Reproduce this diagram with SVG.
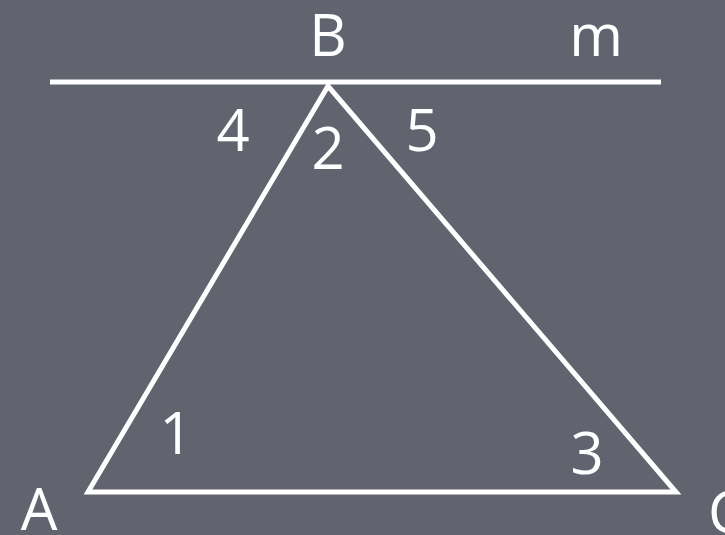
<svg xmlns="http://www.w3.org/2000/svg" width="725" height="535" viewBox="0 0 725 535">
<style>
.t{font-family:"Open Sans","DejaVu Sans",sans-serif;fill:#ffffff;font-size:58px}
.s{stroke:#ffffff;stroke-width:5;fill:none}
</style>
<rect width="725" height="535" fill="#61646f"/>
<g id="connectors">
<line id="m" class="s" x1="50" y1="82" x2="661" y2="82"/>
<polygon id="triangle" class="s" points="328,86 88,492 676,492" stroke-linejoin="miter"/>
</g>
<g id="B"><text class="t" x="328" y="56" text-anchor="middle">B</text></g>
<g id="mlabel"><text class="t" x="596" y="56" text-anchor="middle">m</text></g>
<g id="a4"><text class="t" x="233" y="151" text-anchor="middle">4</text></g>
<g id="a2"><text class="t" x="328" y="169" text-anchor="middle">2</text></g>
<g id="a5"><text class="t" x="422" y="151" text-anchor="middle">5</text></g>
<g id="a1"><text class="t" x="176" y="454" text-anchor="middle">1</text></g>
<g id="a3"><text class="t" x="587" y="474" text-anchor="middle">3</text></g>
<g id="A"><text class="t" x="39" y="530" text-anchor="middle">A</text></g>
<g id="C"><text class="t" x="708" y="533">C</text></g>
</svg>
